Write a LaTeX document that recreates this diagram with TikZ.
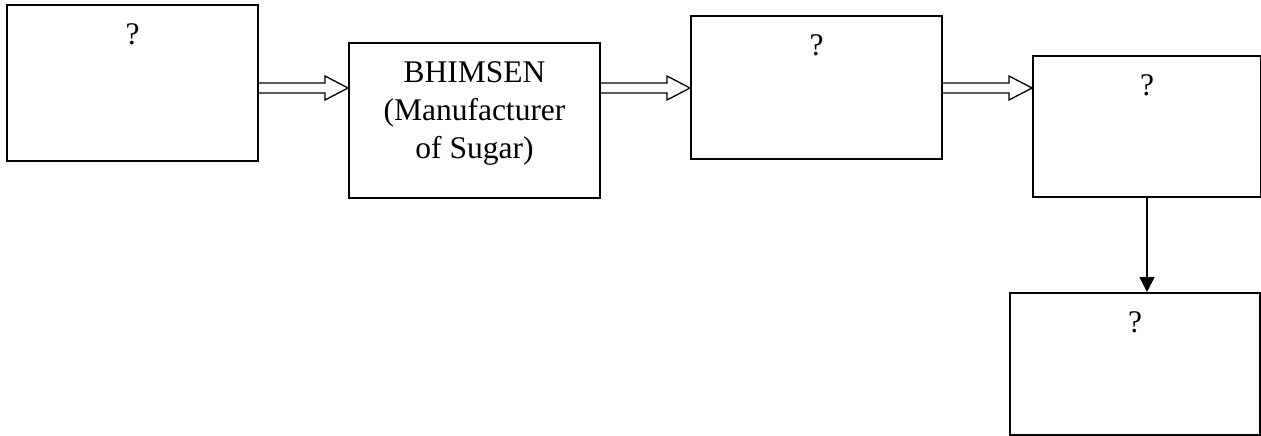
\documentclass[tikz,border=0pt]{standalone}
\usepackage{fontspec}
\setmainfont{Liberation Serif}
\usetikzlibrary{calc,arrows.meta}

% hollow block arrow between two boxes at height #3
\newcommand\fatarrow[3]{%
  \coordinate (arrowrow) at (0,#3);
  \draw[fat] ($(#1.east |- arrowrow)+(0,-5)$) -- ($(#2.west |- arrowrow)+(-23,-5)$)
    -- ++(0,-7) -- (#2.west |- arrowrow) -- ($(#2.west |- arrowrow)+(-23,12)$)
    -- ++(0,-7) -- ($(#1.east |- arrowrow)+(0,5)$);
}

\begin{document}
\begin{tikzpicture}[x=1pt,y=-1pt,
  box/.style={draw, line width=2pt, rectangle, inner sep=0pt, anchor=north west},
  txt/.style={font=\fontsize{31.5}{38}\selectfont, inner sep=0pt, anchor=north, align=center, yshift=-19pt},
  fat/.style={draw, line width=1.3pt, line join=miter},
  down/.style={draw, line width=1.6pt, -{Triangle[length=15pt,width=15pt]}}
]
\useasboundingbox (0,0) rectangle (1261,436);

\node[box, minimum width=251pt, minimum height=156pt] (b1) at (6,4) {};
\node[box, minimum width=251pt, minimum height=155pt] (b2) at (348,42) {};
\node[box, minimum width=251pt, minimum height=143pt] (b3) at (690,15) {};
\node[box, minimum width=228pt, minimum height=141pt] (b4) at (1032,55) {};
\node[box, minimum width=250pt, minimum height=142pt] (b5) at (1009,292) {};

\node[txt] (t1) at (b1.north) {?};
\node[txt] (t2) at (b2.north) {BHIMSEN\\(Manufacturer\\of Sugar)};
\node[txt] (t3) at (b3.north) {?};
\node[txt] (t4) at (b4.north) {?};
\node[txt] (t5) at (b5.north) {?};

\fatarrow{b1}{b2}{88}
\fatarrow{b2}{b3}{88}
\fatarrow{b3}{b4}{88}

\draw[down] (b4.south) -- (b4.south |- b5.north);
\end{tikzpicture}
\end{document}
